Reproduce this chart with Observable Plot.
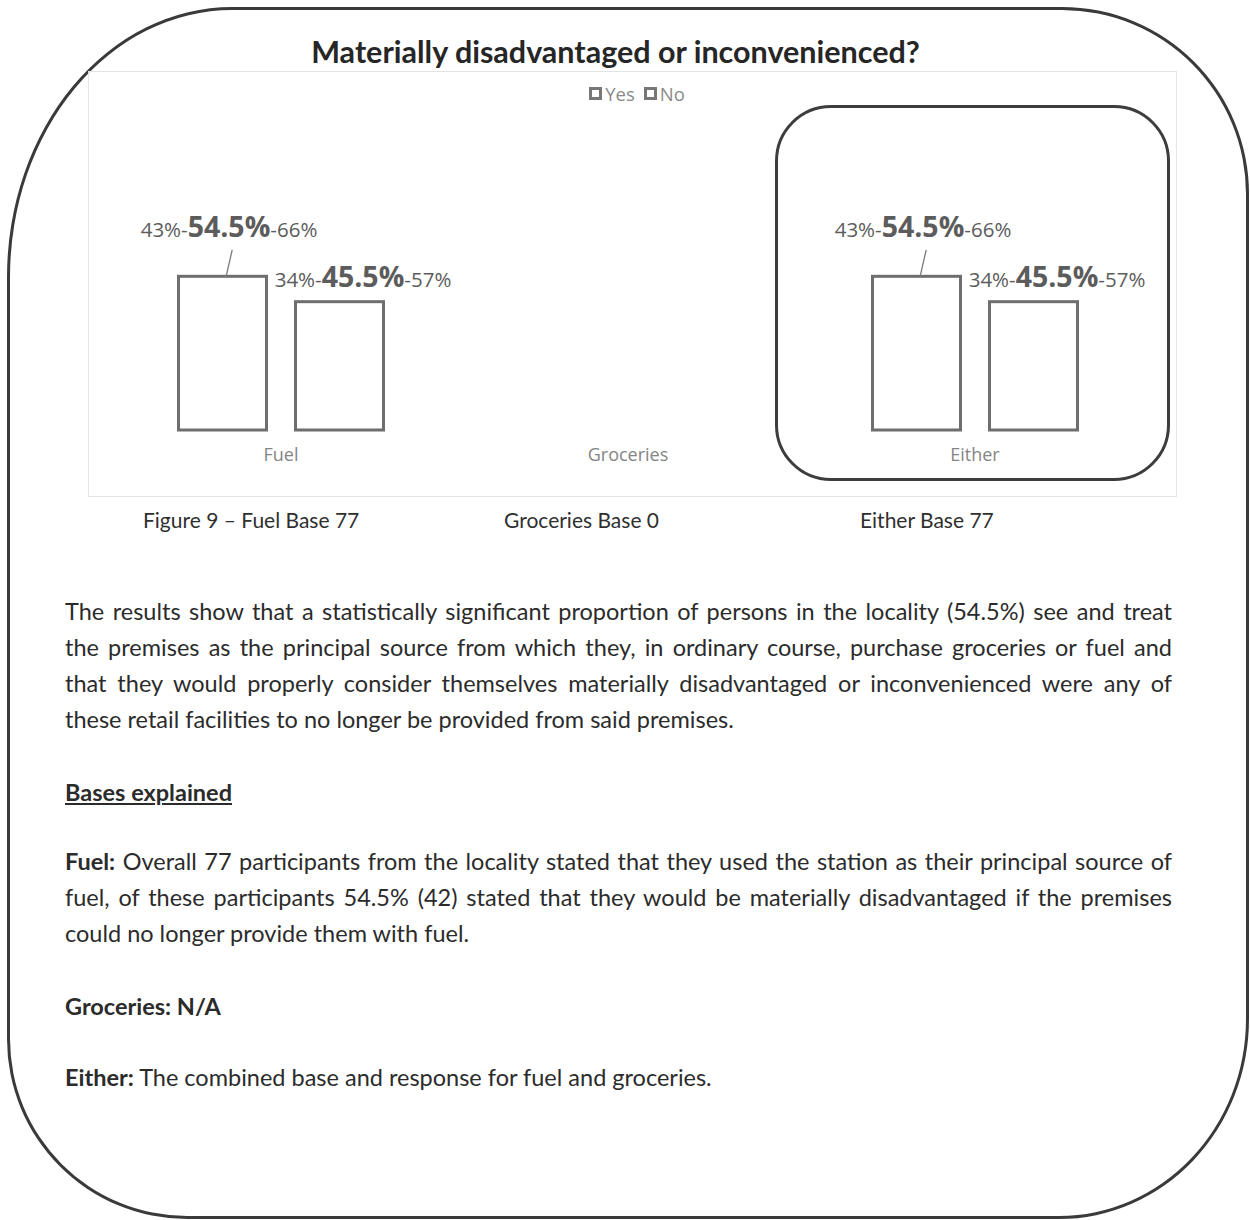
<!DOCTYPE html>
<html><head><meta charset="utf-8">
<script src="https://cdn.jsdelivr.net/npm/d3@7"></script>
<script src="https://cdn.jsdelivr.net/npm/@observablehq/plot@0.6"></script>
<style>
html,body{margin:0;padding:0;background:#fff;}
body{width:1250px;height:1220px;position:relative;overflow:hidden;font-family:Lato,"Open Sans",sans-serif;color:#2b2b2b;}
#frame{position:absolute;left:7px;top:7px;width:1242px;height:1212px;box-sizing:border-box;border:3px solid #3a3a3a;
  border-radius:225px 187px 190px 180px / 270px 187px 200px 180px;}
#title{position:absolute;left:0;top:33px;width:1231px;text-align:center;font-weight:700;font-size:30.5px;color:#262626;}
#chartbox{position:absolute;left:88px;top:71px;width:1089px;height:426px;box-sizing:border-box;border:1px solid #e3e3e3;background:transparent;}
#legend{height:34px;padding-top:8px;display:flex;align-items:center;justify-content:center;padding-left:18px;box-sizing:border-box;font-family:"Open Sans",sans-serif;font-size:18.5px;color:#8a8a8a;}
#legend .item{display:flex;align-items:center;margin:0 9px 0 0;}
#legend .sw{display:inline-block;width:13px;height:13px;box-sizing:border-box;border:3.5px solid #777;background:#fff;margin-right:3px;}
#either{position:absolute;left:775px;top:105px;width:395px;height:376px;box-sizing:border-box;border:3px solid #3d3d3d;border-radius:56px;}
.cap{position:absolute;top:507px;font-size:21px;color:#2f2f2f;}
.line{position:absolute;left:65px;width:1107px;font-size:23.5px;line-height:36px;height:36px;white-space:nowrap;color:#2b2b2b;}
.j{text-align:justify;text-align-last:justify;}
b{font-weight:700;}
</style>
</head><body>
<div id="frame"></div>
<div id="title">Materially disadvantaged or inconvenienced?</div>
<div id="chartbox"><div id="legend"></div><div id="plot"></div></div>
<div id="either"></div>
<div id="captions"></div>
<div id="body"></div>
<script>
const categories = ["Fuel", "Groceries", "Either"];
const series = ["Yes", "No"];
const yesValue = [54.5, null, 54.5];
const yesLow = [43, null, 43];
const yesHigh = [66, null, 66];
const noValue = [45.5, null, 45.5];
const noLow = [34, null, 34];
const noHigh = [57, null, 57];
const bases = [77, 0, 77];
const captionPrefix = ["Figure 9 \u2013 ", "", ""];

const rows = [];
categories.forEach((c, i) => {
  if (yesValue[i] != null) rows.push({category: c, series: "Yes", value: yesValue[i], low: yesLow[i], high: yesHigh[i]});
  if (noValue[i] != null) rows.push({category: c, series: "No", value: noValue[i], low: noLow[i], high: noHigh[i]});
});
const yesRows = rows.filter(d => d.series === "Yes");
const noRows = rows.filter(d => d.series === "No");
const label = d => `${d.low}%-|${d.value}%|-${d.high}%`;

// legend
const leg = document.getElementById("legend");
series.forEach(s => {
  const it = document.createElement("span"); it.className = "item";
  const sw = document.createElement("span"); sw.className = "sw";
  it.appendChild(sw); it.appendChild(document.createTextNode(s));
  leg.appendChild(it);
});

const lineShape = {draw(context, l) { context.moveTo(0, 0); context.lineTo(0, -l); }};

const chart = Plot.plot({
  width: 1087,
  height: 390,
  marginTop: 42,
  marginBottom: 66,
  marginLeft: 17.5,
  marginRight: 28.5,
  style: {fontFamily: "'Open Sans', sans-serif", fontSize: "18px", color: "#858585", background: "transparent"},
  fx: {domain: categories, padding: 0, label: null, tickSize: 0, tickPadding: 18, axis: "bottom"},
  x: {domain: series, axis: null, paddingInner: 0.25, paddingOuter: 0.6},
  y: {domain: [0, 100], axis: null},
  marks: [
    Plot.barY(rows, {fx: "category", x: "series", y: "value", fill: "white", stroke: "#6e6e6e", strokeWidth: 3}),
    Plot.vector(yesRows, {fx: "category", x: "series", y: "value", length: 27, rotate: 13, anchor: "start", dx: 3, shape: lineShape, stroke: "#7a7a7a", strokeWidth: 1.3}),
    Plot.text(yesRows, {fx: "category", x: "series", y: "value", text: label, dx: 6, dy: -40, lineAnchor: "bottom", fill: "#5c5c5c"}),
    Plot.text(noRows, {fx: "category", x: "series", y: "value", text: label, dx: 23, dy: -15, lineAnchor: "bottom", fill: "#5c5c5c"})
  ]
});
document.getElementById("plot").appendChild(chart);

d3.select(chart).selectAll("text").each(function() {
  if (!this.textContent.includes("|")) return;
  const parts = this.textContent.split("|");
  const t = d3.select(this);
  t.text(null);
  t.append("tspan").attr("font-size", 20.5).text(parts[0]);
  t.append("tspan").attr("font-size", 28.5).attr("font-weight", 700).text(parts[1]);
  t.append("tspan").attr("font-size", 20.5).text(parts[2]);
});

// captions under the chart
const capX = [143, 504, 860];
const caps = document.getElementById("captions");
categories.forEach((c, i) => {
  const d = document.createElement("div"); d.className = "cap";
  d.style.left = capX[i] + "px";
  d.textContent = `${captionPrefix[i]}${c} Base ${bases[i]}`;
  caps.appendChild(d);
});

// body text
const bodyLines = [
  {y: 611, j: true, html: "The results show that a statistically significant proportion of persons in the locality (54.5%) see and treat"},
  {y: 647, j: true, html: "the premises as the principal source from which they, in ordinary course, purchase groceries or fuel and"},
  {y: 683, j: true, html: "that they would properly consider themselves materially disadvantaged or inconvenienced were any of"},
  {y: 719, j: false, html: "these retail facilities to no longer be provided from said premises."},
  {y: 792, j: false, html: "<b style='text-decoration:underline'>Bases explained</b>"},
  {y: 861, j: true, html: "<b>Fuel:</b> Overall 77 participants from the locality stated that they used the station as their principal source of"},
  {y: 897, j: true, html: "fuel, of these participants 54.5% (42) stated that they would be materially disadvantaged if the premises"},
  {y: 933, j: false, html: "could no longer provide them with fuel."},
  {y: 1006, j: false, html: "<b>Groceries: N/A</b>"},
  {y: 1077, j: false, html: "<b>Either:</b> The combined base and response for fuel and groceries."}
];
const body = document.getElementById("body");
bodyLines.forEach(l => {
  const d = document.createElement("div");
  d.className = "line" + (l.j ? " j" : "");
  d.style.top = (l.y - 18) + "px";
  d.innerHTML = l.html;
  body.appendChild(d);
  if (l.j) {
    const probe = document.createElement("span");
    probe.innerHTML = l.html;
    probe.style.cssText = "position:absolute;visibility:hidden;white-space:nowrap;font-size:23.5px;";
    body.appendChild(probe);
    const w = probe.getBoundingClientRect().width;
    probe.remove();
    if (w > 1100) d.style.letterSpacing = ((1100 - w) / probe.textContent.length) + "px";
  }
});
</script>
</body></html>
